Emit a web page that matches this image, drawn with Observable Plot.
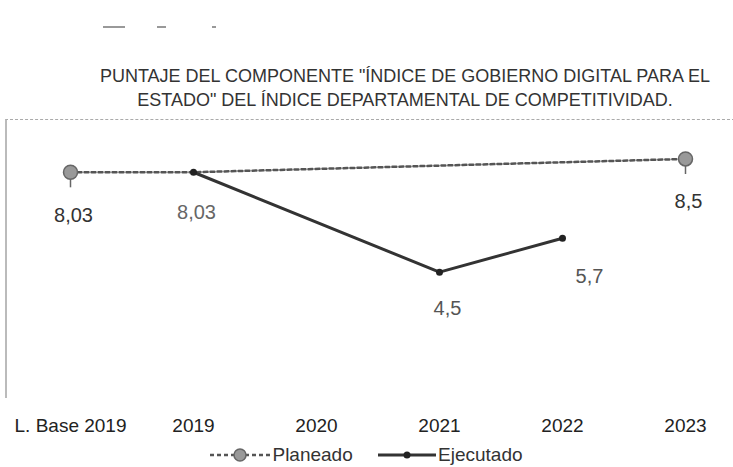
<!DOCTYPE html>
<html><head><meta charset="utf-8">
<script src="https://cdn.jsdelivr.net/npm/d3@7"></script>
<script src="https://cdn.jsdelivr.net/npm/@observablehq/plot@0.6"></script>
<style>
body{margin:0;background:#fff;font-family:"Liberation Sans",sans-serif;color:#333;}
#wrap{position:relative;width:733px;height:467px;overflow:hidden;}
#noise{position:absolute;left:100px;top:22px;}
#title{position:absolute;left:40px;width:730px;top:64px;text-align:center;font-size:18px;line-height:24px;color:#333;}
#frame{position:absolute;left:5px;top:119px;width:728px;height:278px;border-top:1px dashed #aaa;border-left:2px solid #bbb;}
#chart{position:absolute;left:0;top:110px;}
#legend{position:absolute;left:0;width:733px;top:444px;text-align:center;font-size:19px;color:#333;white-space:nowrap;}
#legend span{display:inline-flex;align-items:center;margin:0 10px;}
#legend svg{margin-right:2px;}
</style></head>
<body><div id="wrap">
<svg id="noise" width="130" height="10"><g stroke="#999" stroke-width="2"><line x1="3" y1="5" x2="25" y2="5"/><line x1="57" y1="5" x2="66" y2="5"/><line x1="112" y1="5" x2="116" y2="5"/></g></svg>
<div id="title">PUNTAJE DEL COMPONENTE "ÍNDICE DE GOBIERNO DIGITAL PARA EL<br>ESTADO" DEL ÍNDICE DEPARTAMENTAL DE COMPETITIVIDAD.</div>
<div id="frame"></div>
<div id="chart"></div>
<div id="legend">
<span><svg width="60" height="18"><line x1="0" y1="9" x2="60" y2="9" stroke="#555" stroke-width="2.5" stroke-dasharray="4,3"/><circle cx="30" cy="9" r="6" fill="#999" stroke="#666" stroke-width="1.5"/></svg>Planeado</span>
<span><svg width="58" height="18"><line x1="0" y1="9" x2="58" y2="9" stroke="#333" stroke-width="3"/><circle cx="29" cy="9" r="3.5" fill="#222"/></svg>Ejecutado</span>
</div>
</div>
<script>
const categories = ["L. Base 2019","2019","2020","2021","2022","2023"];
const planeado = [8.03, 8.03, null, null, null, 8.5];
const ejecutado = [null, 8.03, null, 4.5, 5.7, null];
const planeadoLabelIdx = [0, 5];

const fmt = v => String(v).replace(".", ",");
const plan = categories.map((c,i)=>({c, v: planeado[i], i})).filter(d=>d.v!=null);
const ejec = categories.map((c,i)=>({c, v: ejecutado[i], i})).filter(d=>d.v!=null);
const planMarks = plan.filter(d=>planeadoLabelIdx.includes(d.i));

// label placement per category (style only)
const ejecLabelStyle = {"2019": {dx: 3, dy: 40, fill: "#666"}, "2021": {dx: 8, dy: 36, fill: "#555"}, "2022": {dx: 27, dy: 38, fill: "#555"}};

const chart = Plot.plot({
  width: 733, height: 334,
  marginLeft: 70, marginRight: 48, marginTop: 6, marginBottom: 45,
  style: {fontFamily: '"Liberation Sans",sans-serif', fontSize: "19px", color: "#222", background: "transparent"},
  x: {type: "point", domain: categories, padding: 0, label: null, tickSize: 0, tickPadding: 19},
  y: {domain: [0, 10], axis: null},
  marks: [
    Plot.line(plan, {x: "c", y: "v", stroke: "#555", strokeWidth: 2.5, strokeDasharray: "4,3"}),
    Plot.line(ejec, {x: "c", y: "v", stroke: "#333", strokeWidth: 3}),
    Plot.ruleX(planMarks, {x: "c", y1: d=>d.v, y2: d=>d.v-0.55, stroke: "#666", strokeWidth: 1.5}),
    Plot.dot(planMarks, {x: "c", y: "v", r: 7, fill: "#999", stroke: "#666", strokeWidth: 1.5}),
    Plot.dot(ejec, {x: "c", y: "v", r: 3.5, fill: "#222"}),
    Plot.text(planMarks, {x: "c", y: "v", text: d=>fmt(d.v), dy: 43, dx: 3, fontSize: 20, fill: "#333"}),
    ...ejec.map(d => Plot.text([d], {x: "c", y: "v", text: e=>fmt(e.v), fontSize: 20, ...ejecLabelStyle[d.c]}))
  ]
});
document.getElementById("chart").appendChild(chart);
</script>
</body></html>
